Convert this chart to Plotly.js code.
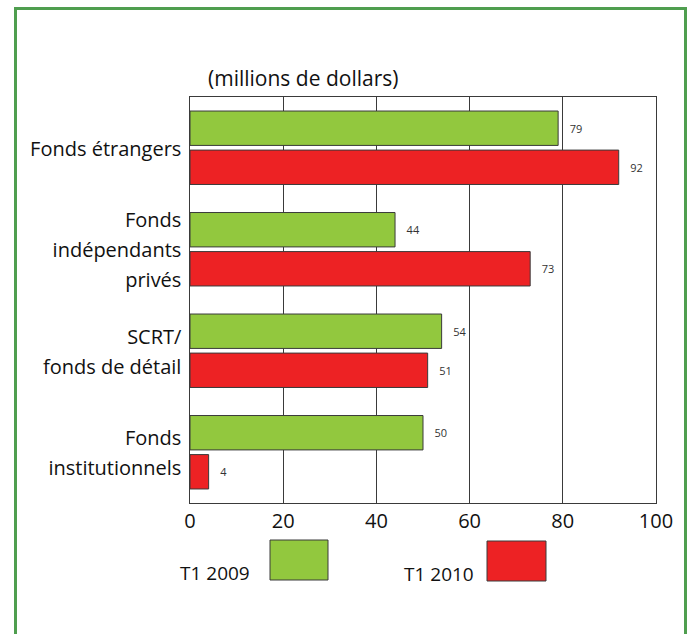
<!DOCTYPE html>
<html>
<head>
<meta charset="utf-8">
<script src="https://cdn.plot.ly/plotly-3.0.1.min.js"></script>
<style>html,body{margin:0;padding:0;background:#fff;}</style>
</head>
<body>
<div id="chart" style="width:687px;height:634px;"></div>
<script>
const categories = ["Fonds étrangers", "Fonds<br>indépendants<br>privés", "SCRT/<br>fonds de détail", "Fonds<br>institutionnels"];
const seriesNames = ["T1 2009", "T1 2010"];
const values2009 = [79, 44, 54, 50];
const values2010 = [92, 73, 51, 4];
const xTicks = [0, 20, 40, 60, 80, 100];
const unitLabel = "(millions de dollars)";

const green = "#92c83e";
const red = "#ed2224";
const edge = "#3a3a3a";
const FONT = "'Open Sans', 'Liberation Sans', sans-serif";
const pad = "\u00a0\u00a0\u00a0";

function barTrace(name, vals, color) {
  return {
    type: "bar", orientation: "h", name: name,
    x: vals, y: categories,
    marker: {color: color, line: {color: edge, width: 1}},
    text: vals.map(v => pad + v), textposition: "outside",
    textfont: {family: FONT, size: 11, color: "#333"},
    cliponaxis: false, hoverinfo: "x"
  };
}

const data = [barTrace(seriesNames[0], values2009, green), barTrace(seriesNames[1], values2010, red)];

// wider line spacing for the category labels: big base font, 20px visible text
const tickText = categories.map(c => c.split("<br>").map(s => '<span style="font-size:20px">' + s + '</span>').join("<br>"));

// pixel helpers -> paper coordinates (plot area: x 190..656, y 97..503)
const L = 190, R = 656, T = 97, B = 503;
const px = x => (x - L) / (R - L);
const py = y => (B - y) / (B - T);

const layout = {
  width: 687, height: 634,
  margin: {l: L, r: 687 - R, t: T, b: 634 - B, pad: 0},
  paper_bgcolor: "#fff", plot_bgcolor: "#fff",
  font: {family: FONT, color: "#111"},
  showlegend: false,
  barmode: "group", bargap: 0.23, bargroupgap: 0.12,
  xaxis: {
    range: [0, 100], tickvals: xTicks, ticktext: xTicks.map(String),
    showgrid: true, gridcolor: edge, gridwidth: 1,
    showline: true, linecolor: edge, linewidth: 1, mirror: true,
    zeroline: false, ticks: "", tickfont: {family: FONT, size: 20, color: "#111"}
  },
  yaxis: {
    type: "category", range: [3.5, -0.5],
    tickvals: categories, ticktext: tickText,
    showgrid: false, showline: true, linecolor: edge, linewidth: 1, mirror: true,
    zeroline: false, ticks: "outside", ticklen: 3, tickcolor: "rgba(0,0,0,0)",
    tickfont: {family: FONT, size: 23, color: "#111"}
  },
  annotations: [
    {xref: "paper", yref: "paper", x: px(206), y: py(78), xanchor: "left", yanchor: "middle",
     text: unitLabel, showarrow: false, font: {family: FONT, size: 21, color: "#111"}},
    {xref: "paper", yref: "paper", x: px(252), y: py(573), xanchor: "right", yanchor: "middle",
     text: seriesNames[0], showarrow: false, font: {family: FONT, size: 19, color: "#111"}},
    {xref: "paper", yref: "paper", x: px(476), y: py(574), xanchor: "right", yanchor: "middle",
     text: seriesNames[1], showarrow: false, font: {family: FONT, size: 19, color: "#111"}}
  ],
  shapes: [
    {type: "rect", xref: "paper", yref: "paper", x0: px(270), x1: px(328), y0: py(540), y1: py(580),
     fillcolor: green, line: {color: edge, width: 1}},
    {type: "rect", xref: "paper", yref: "paper", x0: px(487), x1: px(546), y0: py(541), y1: py(581),
     fillcolor: red, line: {color: edge, width: 1}},
    {type: "rect", xref: "paper", yref: "paper", x0: px(15.5), x1: px(685.5), y0: py(8.5), y1: py(660),
     fillcolor: "rgba(0,0,0,0)", line: {color: "#4f9e4f", width: 3}}
  ]
};

Plotly.newPlot("chart", data, layout, {displayModeBar: false, staticPlot: true});
</script>
</body>
</html>
